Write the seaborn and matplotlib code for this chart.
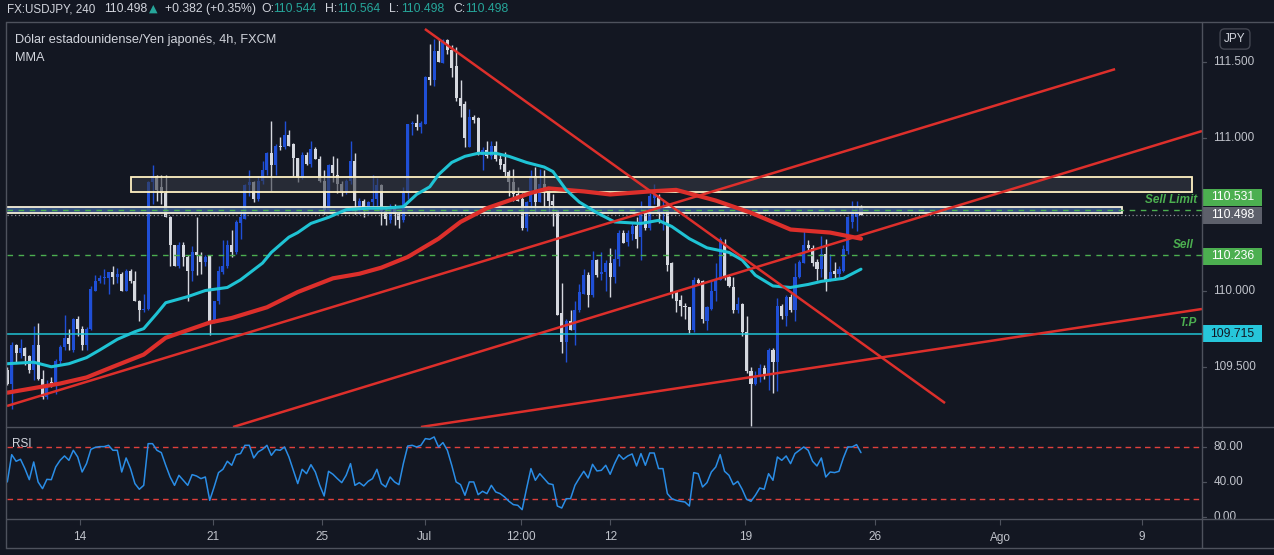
import numpy as np
import matplotlib
matplotlib.use('Agg')
import matplotlib.pyplot as plt
from matplotlib.lines import Line2D
from matplotlib.patches import Rectangle
from matplotlib.colors import to_rgba
import seaborn as sns

# ---- USDJPY 4h candles ----
opens = [
    109.48, 109.39, 109.64, 109.59, 109.62, 109.57, 109.48, 109.64, 109.42, 109.30,
    109.40, 109.39, 109.54, 109.63, 109.69, 109.61, 109.81, 109.75, 109.64, 109.75,
    110.00, 110.06, 110.08, 110.08, 110.12, 110.09, 110.11, 110.00, 110.13, 110.06,
    109.93, 109.87, 109.88, 110.71, 110.75, 110.68, 110.64, 110.48, 110.30, 110.16,
    110.30, 110.22, 110.13, 110.25, 110.23, 110.19, 110.23, 109.80, 109.93, 110.12,
    110.16, 110.30, 110.25, 110.44, 110.47, 110.69, 110.71, 110.60, 110.72, 110.79,
    110.90, 110.82, 110.95, 110.94, 111.02, 110.96, 110.87, 110.74, 110.89, 110.83,
    110.93, 110.86, 110.72, 110.53, 110.82, 110.76, 110.70, 110.65, 110.72, 110.85,
    110.55, 110.59, 110.53, 110.58, 110.60, 110.69, 110.52, 110.46, 110.55, 110.50,
    110.46, 110.64, 111.09, 111.10, 111.07, 111.09, 111.40, 111.38, 111.57, 111.49,
    111.64, 111.58, 111.47, 111.26, 111.22, 110.94, 111.14, 111.13, 110.89, 110.92,
    110.88, 110.95, 110.86, 110.83, 110.78, 110.71, 110.63, 110.60, 110.41, 110.58,
    110.75, 110.58, 110.70, 110.65, 110.59, 110.53, 109.85, 109.66, 109.80, 109.74,
    109.87, 109.98, 110.10, 109.97, 110.20, 110.11, 110.12, 110.18, 110.09, 110.21,
    110.38, 110.32, 110.37, 110.42, 110.35, 110.51, 110.41, 110.61, 110.62, 110.50,
    110.52, 110.18, 109.99, 109.94, 109.90, 109.89, 109.74, 110.07, 110.06, 109.80,
    109.88, 110.00, 110.07, 110.31, 110.09, 110.02, 109.87, 109.91, 109.73, 109.47,
    109.39, 109.43, 109.49, 109.45, 109.61, 109.53, 109.90, 109.83, 109.96, 109.87,
    110.09, 110.18, 110.30, 110.28, 110.19, 110.14, 110.24, 110.07, 110.13, 110.11,
    110.13, 110.26, 110.45, 110.48, 110.544,
]
highs = [
    109.50, 109.66, 109.65, 109.68, 109.63, 109.58, 109.77, 109.79, 109.48, 109.41,
    109.43, 109.55, 109.64, 109.84, 109.75, 109.82, 109.83, 109.77, 109.76, 110.03,
    110.10, 110.10, 110.14, 110.12, 110.16, 110.15, 110.12, 110.14, 110.14, 110.13,
    109.94, 109.98, 110.72, 110.82, 110.76, 110.76, 110.76, 110.49, 110.30, 110.32,
    110.32, 110.23, 110.29, 110.48, 110.25, 110.23, 110.23, 109.93, 110.16, 110.33,
    110.33, 110.40, 110.46, 110.53, 110.70, 110.79, 110.72, 110.75, 110.85, 110.91,
    111.11, 110.96, 111.01, 111.11, 111.05, 110.97, 110.87, 110.91, 110.91, 110.98,
    110.94, 110.88, 110.79, 110.83, 110.88, 110.87, 110.72, 110.73, 110.98, 110.90,
    110.61, 110.60, 110.59, 110.76, 110.74, 110.70, 110.55, 110.57, 110.57, 110.52,
    110.68, 111.09, 111.11, 111.16, 111.11, 111.41, 111.62, 111.65, 111.65, 111.65,
    111.65, 111.61, 111.60, 111.38, 111.24, 111.19, 111.15, 111.14, 110.94, 110.98,
    110.98, 110.98, 110.89, 110.91, 110.79, 110.80, 110.68, 110.64, 110.59, 110.79,
    110.81, 110.80, 110.79, 110.66, 110.63, 110.53, 110.05, 109.81, 109.87, 109.93,
    110.04, 110.14, 110.12, 110.26, 110.21, 110.25, 110.20, 110.28, 110.27, 110.40,
    110.40, 110.40, 110.44, 110.48, 110.59, 110.52, 110.64, 110.70, 110.63, 110.59,
    110.52, 110.19, 110.00, 109.97, 109.92, 109.89, 110.09, 110.08, 110.07, 109.90,
    110.07, 110.18, 110.35, 110.34, 110.10, 110.09, 109.96, 109.92, 109.83, 109.50,
    109.47, 109.52, 109.51, 109.62, 109.62, 109.95, 109.91, 109.97, 109.98, 110.18,
    110.20, 110.39, 110.33, 110.30, 110.21, 110.36, 110.34, 110.24, 110.19, 110.16,
    110.30, 110.49, 110.59, 110.59, 110.564,
]
lows = [
    109.38, 109.22, 109.53, 109.56, 109.51, 109.46, 109.41, 109.41, 109.29, 109.29,
    109.37, 109.32, 109.52, 109.61, 109.61, 109.60, 109.70, 109.61, 109.61, 109.74,
    110.00, 110.05, 110.04, 109.98, 110.04, 110.05, 110.00, 110.00, 110.05, 109.93,
    109.80, 109.86, 109.87, 110.57, 110.59, 110.57, 110.48, 110.16, 110.16, 110.15,
    110.16, 109.93, 110.06, 110.10, 110.11, 110.16, 109.71, 109.79, 109.91, 110.11,
    110.15, 110.22, 110.24, 110.34, 110.47, 110.62, 110.58, 110.59, 110.70, 110.76,
    110.65, 110.76, 110.92, 110.93, 110.95, 110.75, 110.71, 110.73, 110.82, 110.81,
    110.86, 110.71, 110.50, 110.53, 110.71, 110.64, 110.62, 110.63, 110.70, 110.50,
    110.50, 110.48, 110.50, 110.54, 110.52, 110.43, 110.43, 110.44, 110.43, 110.41,
    110.45, 110.60, 111.02, 111.05, 111.03, 111.09, 111.35, 111.34, 111.50, 111.49,
    111.55, 111.40, 111.24, 111.14, 110.94, 110.94, 111.10, 110.89, 110.79, 110.87,
    110.86, 110.85, 110.80, 110.75, 110.62, 110.59, 110.59, 110.40, 110.39, 110.51,
    110.51, 110.58, 110.55, 110.51, 110.42, 109.84, 109.59, 109.53, 109.74, 109.64,
    109.86, 109.98, 109.89, 109.96, 110.09, 110.07, 110.00, 109.96, 110.05, 110.16,
    110.31, 110.29, 110.33, 110.28, 110.20, 110.40, 110.40, 110.57, 110.44, 110.40,
    110.13, 109.95, 109.86, 109.83, 109.81, 109.72, 109.73, 110.04, 109.79, 109.74,
    109.87, 109.93, 110.07, 110.07, 110.02, 109.85, 109.85, 109.70, 109.46, 109.11,
    109.38, 109.40, 109.42, 109.35, 109.33, 109.34, 109.81, 109.77, 109.86, 109.80,
    110.08, 110.18, 110.26, 110.16, 110.07, 110.09, 110.00, 110.06, 110.07, 110.09,
    110.12, 110.24, 110.41, 110.39, 110.498,
]
closes = [
    109.39, 109.64, 109.59, 109.62, 109.57, 109.48, 109.64, 109.42, 109.30, 109.39,
    109.39, 109.54, 109.63, 109.69, 109.65, 109.81, 109.75, 109.64, 109.75, 110.01,
    110.06, 110.08, 110.09, 110.12, 110.09, 110.11, 110.00, 110.13, 110.06, 109.93,
    109.87, 109.88, 110.71, 110.75, 110.66, 110.64, 110.48, 110.30, 110.16, 110.30,
    110.22, 110.13, 110.25, 110.23, 110.19, 110.22, 109.80, 109.93, 110.13, 110.16,
    110.30, 110.25, 110.45, 110.48, 110.69, 110.71, 110.60, 110.72, 110.79, 110.90,
    110.82, 110.95, 110.94, 111.02, 110.95, 110.87, 110.74, 110.89, 110.83, 110.93,
    110.86, 110.72, 110.53, 110.82, 110.77, 110.70, 110.65, 110.72, 110.85, 110.59,
    110.59, 110.55, 110.58, 110.60, 110.69, 110.52, 110.47, 110.55, 110.50, 110.46,
    110.64, 111.09, 111.10, 111.07, 111.10, 111.40, 111.38, 111.57, 111.50, 111.64,
    111.58, 111.46, 111.26, 111.21, 111.00, 111.14, 111.12, 110.90, 110.92, 110.88,
    110.95, 110.86, 110.82, 110.78, 110.71, 110.63, 110.59, 110.41, 110.58, 110.75,
    110.58, 110.70, 110.65, 110.59, 110.56, 109.84, 109.66, 109.80, 109.74, 109.87,
    109.99, 110.10, 109.97, 110.20, 110.10, 110.12, 110.18, 110.09, 110.21, 110.38,
    110.31, 110.38, 110.42, 110.34, 110.51, 110.41, 110.62, 110.63, 110.50, 110.52,
    110.17, 109.99, 109.93, 109.90, 109.89, 109.74, 110.07, 110.05, 109.81, 109.89,
    110.00, 110.07, 110.34, 110.09, 110.03, 109.87, 109.91, 109.73, 109.47, 109.39,
    109.43, 109.49, 109.45, 109.61, 109.53, 109.90, 109.83, 109.96, 109.87, 110.09,
    110.19, 110.30, 110.28, 110.18, 110.14, 110.24, 110.07, 110.12, 110.11, 110.14,
    110.27, 110.48, 110.53, 110.54, 110.498,
]

# RSI value per candle
rsi = [
    39.9, 71.2, 63.6, 65.9, 55.2, 42.5, 62.8, 39.9, 32.2, 42.9,
    42.5, 57.1, 64.7, 69.7, 64.7, 76.2, 68.5, 51.3, 60.9, 77.3,
    79.6, 80.4, 80.4, 81.9, 76.2, 76.2, 51.3, 67.4, 55.2, 38.0,
    31.5, 36.0, 83.8, 83.8, 76.2, 73.5, 59.0, 45.6, 36.0, 47.5,
    41.8, 36.0, 48.3, 46.7, 43.7, 45.6, 18.8, 34.1, 50.6, 54.4,
    63.6, 59.0, 71.2, 72.4, 81.9, 81.9, 67.4, 74.3, 77.3, 81.9,
    70.4, 76.9, 76.2, 80.0, 68.5, 53.2, 38.0, 54.4, 49.4, 59.7,
    51.3, 36.0, 23.8, 52.1, 48.7, 43.7, 39.1, 47.5, 60.9, 36.0,
    39.1, 35.3, 40.6, 43.7, 54.4, 38.0, 34.1, 45.6, 39.9, 36.8,
    60.9, 81.1, 81.9, 80.0, 81.9, 89.6, 88.8, 91.5, 80.0, 85.0,
    76.2, 59.0, 39.9, 36.8, 24.6, 39.9, 39.9, 25.3, 29.2, 26.5,
    36.0, 28.4, 26.5, 22.7, 17.7, 13.9, 13.1, 8.1, 32.2, 55.2,
    41.8, 49.4, 43.7, 38.0, 36.8, 12.3, 10.0, 20.7, 20.7, 36.0,
    44.4, 52.1, 44.4, 60.1, 52.5, 53.2, 59.0, 48.7, 60.9, 71.2,
    65.9, 69.7, 72.0, 58.2, 72.4, 59.0, 73.1, 73.1, 55.2, 55.2,
    26.5, 20.7, 18.8, 17.7, 16.9, 12.3, 50.6, 49.4, 34.1, 39.1,
    51.3, 57.1, 71.2, 52.1, 47.5, 36.8, 40.6, 31.5, 20.0, 17.7,
    24.6, 33.0, 31.5, 49.4, 41.8, 68.5, 64.7, 69.7, 60.9, 72.4,
    76.2, 80.0, 76.2, 63.6, 58.2, 67.4, 45.6, 51.3, 50.6, 52.1,
    67.4, 80.0, 80.0, 82.7, 73.5,
]

# moving averages (bar index -> value)
ma_fast_bar = [0, 6, 10, 14, 18, 21, 25, 29, 31, 34, 36, 41, 45, 50, 53, 58, 60, 64,
               66, 69, 73, 77, 82, 86, 90, 93, 96, 98, 101, 104, 107, 111, 114, 118,
               122, 124, 127, 130, 134, 138, 144, 148, 151, 155, 159, 164, 167, 170,
               174, 178, 182, 185, 190, 194]
ma_fast_val = [109.52, 109.53, 109.50, 109.52, 109.56, 109.61, 109.68, 109.73, 109.75,
               109.85, 109.92, 109.96, 110.00, 110.02, 110.07, 110.18, 110.25, 110.35,
               110.38, 110.44, 110.48, 110.53, 110.54, 110.54, 110.55, 110.63, 110.68,
               110.76, 110.84, 110.88, 110.90, 110.90, 110.88, 110.84, 110.81, 110.78,
               110.66, 110.58, 110.51, 110.45, 110.44, 110.46, 110.42, 110.34, 110.28,
               110.25, 110.20, 110.10, 110.03, 110.02, 110.04, 110.06, 110.08, 110.14]
ma_slow_bar = [0, 6, 12, 18, 24, 31, 36, 41, 46, 51, 59, 66, 74, 80, 85, 91, 98, 103,
               109, 114, 119, 123, 131, 137, 146, 152, 161, 169, 178, 187, 194]
ma_slow_val = [109.33, 109.36, 109.39, 109.43, 109.50, 109.58, 109.69, 109.74, 109.79,
               109.82, 109.89, 109.99, 110.08, 110.11, 110.15, 110.22, 110.34, 110.45,
               110.54, 110.59, 110.64, 110.67, 110.65, 110.63, 110.65, 110.66, 110.59,
               110.51, 110.40, 110.38, 110.34]

# hand drawn trend lines: (bar, price) -> (bar, price)
trend_bar0 = [-0.07, 51.3, 94.0, 94.9]
trend_price0 = [109.243, 109.105, 109.105, 111.715]
trend_bar1 = [251.75, 271.5, 271.5, 213.1]
trend_price1 = [111.452, 111.046, 109.879, 109.262]

# rectangles
zone_gray_bars = [28.0, 269.3]
zone_gray_prices = [110.648, 110.746]
zone_blue_bars = [-2.0, 253.4]
zone_blue_prices = [110.510, 110.546]

sell_limit, last_price, sell_price, tp_price = 110.531, 110.498, 110.236, 109.715
price_ticks = [109.5, 110.0, 111.0, 111.5]
rsi_ticks = [0, 40, 80]
time_tick_bars = [16.5, 46.7, 71.5, 94.9, 116.8, 137.0, 167.7, 197.2, 225.6, 257.9]
time_tick_labels = ['14', '21', '25', 'Jul', '12:00', '12', '19', '26', 'Ago', '9']

W, H = 1274, 555
BG = '#131722'
FRAME = '#4e525d'
TXT = '#c0c3cb'
UP = '#1f4fd6'
DOWN = '#d5d8df'
RED = '#dd2f2b'
CYAN = '#1fc3d4'
GREEN = '#4caf50'
TEAL = '#26a69a'

sns.set_theme(style='dark', rc={'axes.facecolor': BG, 'figure.facecolor': BG})
plt.rcParams['font.family'] = ['Liberation Sans', 'DejaVu Sans']

fig = plt.figure(figsize=(W / 100, H / 100), dpi=100)


def px_axes(l, t, r, b):
    a = fig.add_axes([l / W, 1 - b / H, (r - l) / W, (b - t) / H])
    a.set_facecolor(BG)
    for s in a.spines.values():
        s.set_visible(False)
    a.set_xticks([])
    a.set_yticks([])
    return a


def px_text(x, y, s, **kw):
    fig.text(x / W, 1 - y / H, s, **kw)


def px_line(x0, y0, x1, y1):
    fig.add_artist(Line2D([x0 / W, x1 / W], [1 - y0 / H, 1 - y1 / H], color=FRAME, lw=1))


ax = px_axes(7, 22, 1202, 427)
ax_rsi = px_axes(7, 427, 1202, 519)
ax_ps = px_axes(1202, 22, 1274, 427)
ax_rs = px_axes(1202, 427, 1274, 519)

x_lim = (-0.07, 271.5)
p_lim = (109.105, 111.761)
r_lim = (-2.6, 102.9)
ax.set_xlim(x_lim)
ax.set_ylim(p_lim)
ax_rsi.set_xlim(x_lim)
ax_rsi.set_ylim(r_lim)
ax_ps.set_xlim(0, 72)
ax_ps.set_ylim(p_lim)
ax_rs.set_xlim(0, 72)
ax_rs.set_ylim(r_lim)

# candles
o, hi, lo, c = map(np.array, (opens, highs, lows, closes))
idx = np.arange(len(o))
cols = np.where(c >= o, UP, DOWN)
ax.vlines(idx, lo, hi, colors=cols, lw=1.0, zorder=2)
ax.bar(idx, np.maximum(np.abs(c - o), 0.007), bottom=np.minimum(o, c), width=0.7,
       color=cols, lw=0, zorder=3)

# zones
ax.add_patch(Rectangle((zone_gray_bars[0], zone_gray_prices[0]),
                       zone_gray_bars[1] - zone_gray_bars[0],
                       zone_gray_prices[1] - zone_gray_prices[0],
                       fc=to_rgba('#363a45', 0.6), ec='#fff1c2', lw=1.3, zorder=4))
ax.add_patch(Rectangle((zone_blue_bars[0], zone_blue_prices[0]),
                       zone_blue_bars[1] - zone_blue_bars[0],
                       zone_blue_prices[1] - zone_blue_prices[0],
                       fc=to_rgba('#3a5a8e', 0.85), ec='#f4efd8', lw=1.3, zorder=4))

# horizontal order levels
ax.axhline(sell_limit, color=GREEN, lw=1, ls=(0, (4, 4)), zorder=4.5)
ax.axhline(last_price, color='#8a8d96', lw=0.9, ls=(0, (1, 2)), zorder=4.5)
ax.axhline(sell_price, color=GREEN, lw=1, ls=(0, (4, 4)), zorder=4.5)
ax.axhline(tp_price, color=CYAN, lw=1.1, zorder=4.5)

# moving averages
sns.lineplot(x=ma_slow_bar, y=ma_slow_val, ax=ax, color=RED, lw=3.0, sort=False,
             estimator=None, legend=False, zorder=5)
sns.lineplot(x=ma_fast_bar, y=ma_fast_val, ax=ax, color=CYAN, lw=2.2, sort=False,
             estimator=None, legend=False, zorder=5)

# trend lines
for b0, p0, b1, p1 in zip(trend_bar0, trend_price0, trend_bar1, trend_price1):
    ax.plot([b0, b1], [p0, p1], color=RED, lw=1.8, zorder=6, solid_capstyle='butt')

ax.set_xlabel('')
ax.set_ylabel('')

lbl = dict(color=GREEN, fontsize=8.5, fontweight='bold', fontstyle='italic',
           ha='right', va='center', textcoords='offset pixels',
           xycoords=ax.get_yaxis_transform(), annotation_clip=False)
ax.annotate('Sell Limit', xy=(1, sell_limit), xytext=(-5, 10), **lbl)
ax.annotate('Sell', xy=(1, sell_price), xytext=(-8, 10), **lbl)
ax.annotate('T.P', xy=(1, tp_price), xytext=(-5, 11), **lbl)

# RSI
sns.lineplot(x=idx, y=rsi, ax=ax_rsi, color='#2a8de6', lw=1.1, legend=False, zorder=3)
for lvl in (80, 20):
    ax_rsi.axhline(lvl, color='#e0403c', lw=1, ls=(0, (4, 3)), zorder=2)
ax_rsi.set_xlabel('')
ax_rsi.set_ylabel('')
ax_rsi.set_xticks(time_tick_bars)
ax_rsi.set_xticklabels(time_tick_labels)
ax_rsi.tick_params(axis='x', bottom=True, direction='out', length=4, width=0.8,
                   color=FRAME, labelcolor=TXT, labelsize=8.5, pad=5)

# price scale
ppx = (p_lim[1] - p_lim[0]) / 405.0
for p in price_ticks:
    ax_ps.plot([0, 4], [p, p], color=FRAME, lw=0.9)
    ax_ps.text(11, p, f'{p:.3f}', ha='left', va='center', color=TXT, fontsize=8.5)

for price, shift, face, tcol in [(sell_limit, 12.5, GREEN, 'white'),
                                 (last_price, -0.5, '#5d606b', 'white'),
                                 (sell_price, -1.5, GREEN, 'white'),
                                 (tp_price, 0, '#26c6da', BG)]:
    yc = price + shift * ppx
    ax_ps.add_patch(Rectangle((1, yc - 8.5 * ppx), 59, 17 * ppx, fc=face, ec='none',
                              clip_on=False, zorder=3))
    ax_ps.text(30.5, yc, f'{price:.3f}', ha='center', va='center', color=tcol,
               fontsize=8.8, zorder=4)

for v in rsi_ticks:
    ax_rs.plot([0, 4], [v, v], color=FRAME, lw=0.9)
    ax_rs.text(12, v, f'{v:.2f}', ha='left', va='center', color=TXT, fontsize=8.5)

px_text(1235, 39, 'JPY', ha='center', va='center', color='#d1d4dc', fontsize=8.5,
        bbox=dict(boxstyle='round,pad=0.35,rounding_size=0.4', fc=BG, ec='#434651', lw=1))

# frame
px_line(6.5, 22, 1274, 22)
px_line(6.5, 22, 6.5, 548)
px_line(6.5, 427, 1274, 427)
px_line(6.5, 519, 1274, 519)
px_line(6.5, 548, 1274, 548)
px_line(1202, 22, 1202, 548)

# header
hdr = dict(va='center', ha='left', fontsize=8.8)
px_text(7, 9, 'FX:USDJPY, 240', color='#d1d4dc', va='center', ha='left', fontsize=8.4)
px_text(104, 9, '110.498', color='#d1d4dc', **hdr)
px_text(149, 9, '\u25b2', color=TEAL, va='center', ha='left', fontsize=8,
        family='DejaVu Sans')
px_text(165, 9, '+0.382 (+0.35%)', color='#d1d4dc', **hdr)
x = 261
for key, val in [('O:', '110.544'), ('H:', '110.564'), ('L:', '110.498'), ('C:', '110.498')]:
    px_text(x, 9, key, color='#d1d4dc', **hdr)
    px_text(x + 12.5, 9, val, color=TEAL, **hdr)
    x += 64

px_text(15, 40, 'Dólar estadounidense/Yen japonés, 4h, FXCM', color='#d1d4dc',
        va='center', ha='left', fontsize=9.2)
px_text(15, 58, 'MMA', color='#d1d4dc', va='center', ha='left', fontsize=9.2)
px_text(12, 444, 'RSI', color='#d1d4dc', va='center', ha='left', fontsize=8.5)

fig.savefig('out.png', dpi=100, facecolor=BG)
